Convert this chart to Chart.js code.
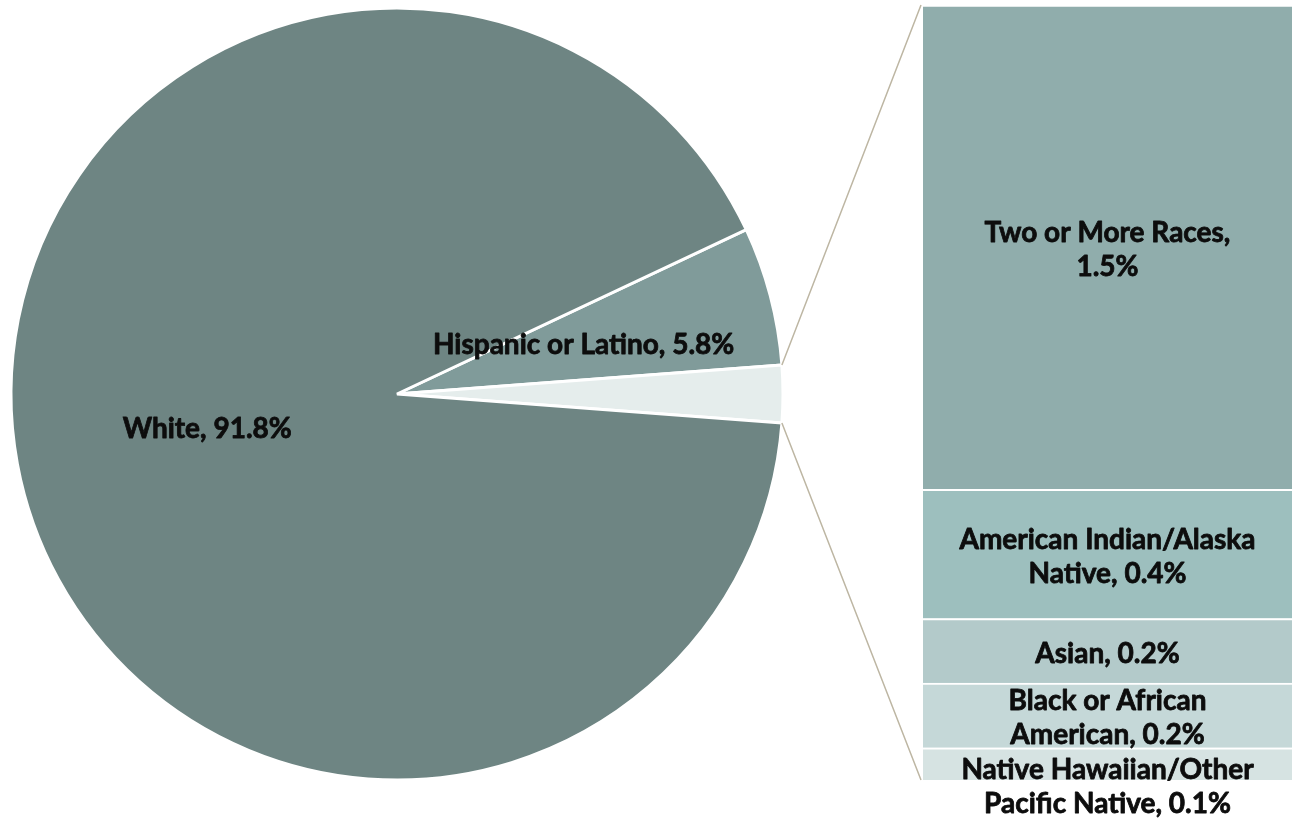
<!DOCTYPE html>
<html>
<head>
<meta charset="utf-8">
<script src="https://cdn.jsdelivr.net/npm/chart.js@4.4.1/dist/chart.umd.min.js"></script>
<style>
  html, body { margin: 0; padding: 0; background: #fff; }
  #wrap { position: relative; width: 1292px; height: 822px; }
  #pie { position: absolute; left: 0; top: 0; }
  #bar { position: absolute; left: 923px; top: 0; }
</style>
</head>
<body>
<div id="wrap">
  <canvas id="pie" width="1292" height="822"></canvas>
  <canvas id="bar" width="369" height="822"></canvas>
</div>
<script>
// main pie: the small groups are combined into "Other" and broken out in the bar
const pieLabels = ['Hispanic or Latino', 'Other', 'White'];
const pieValues = [5.8, 2.4, 91.8];
const pieColors = ['#809b9a', '#e5edec', '#6e8583'];

// breakout bar, stacked bottom to top
const barNames = ['Native Hawaiian/Other Pacific Native', 'Black or African American', 'Asian', 'American Indian/Alaska Native', 'Two or More Races'];
const barValues = [0.1, 0.2, 0.2, 0.4, 1.5];
const barColors = ['#d6e3e2', '#c5d8d8', '#b3caca', '#9dbfbe', '#90adac'];
// label layout, {v} is replaced with the value
const barLabelFormat = ['Native Hawaiian/Other\nPacific Native, {v}%', 'Black or African\nAmerican, {v}%', 'Asian, {v}%', 'American Indian/Alaska\nNative, {v}%', 'Two or More Races,\n{v}%'];

const labelFont = 'bold 28px Lato';
const lineHeight = 34;
const textColor = '#0d0d0d';

// bold text with a thin outline so it reads heavier
function heavyText(ctx, text, x, y) {
  ctx.fillText(text, x, y);
  ctx.strokeText(text, x, y);
}

function labelStyle(ctx) {
  ctx.font = labelFont;
  ctx.fillStyle = textColor;
  ctx.strokeStyle = textColor;
  ctx.lineWidth = 0.8;
  ctx.lineJoin = 'round';
  ctx.textAlign = 'center';
  ctx.textBaseline = 'middle';
}

const barLabelPlugin = {
  id: 'barLabels',
  afterDatasetsDraw(chart) {
    const ctx = chart.ctx;
    ctx.save();
    labelStyle(ctx);
    chart.data.datasets.forEach((ds, i) => {
      const bar = chart.getDatasetMeta(i).data[0];
      const lines = barLabelFormat[i].replace('{v}', ds.data[0].toFixed(1)).split('\n');
      const top = Math.min(bar.y, bar.base);
      const bottom = Math.max(bar.y, bar.base);
      const segH = bottom - top;
      const blockH = lines.length * lineHeight;
      let cy = (top + bottom) / 2 + 3;
      // labels far taller than their segment hang from the segment top
      if (blockH > 2 * segH) cy = top + blockH / 2 + 5;
      lines.forEach((ln, k) => {
        heavyText(ctx, ln, bar.x, cy - blockH / 2 + lineHeight * (k + 0.5));
      });
    });
    ctx.restore();
  }
};

const barChart = new Chart(document.getElementById('bar'), {
  type: 'bar',
  data: {
    labels: [''],
    datasets: barNames.map((name, i) => ({
      label: name,
      data: [barValues[i]],
      backgroundColor: barColors[i],
      borderColor: '#ffffff',
      borderWidth: { top: 2, left: 0, right: 0, bottom: 0 },
      barPercentage: 1,
      categoryPercentage: 1
    }))
  },
  options: {
    responsive: false,
    animation: false,
    layout: { padding: { top: 5, bottom: 42, left: 0, right: 0 } },
    scales: {
      x: { stacked: true, display: false },
      y: { stacked: true, display: false, min: 0, max: pieValues[1] }
    },
    plugins: {
      legend: { display: false },
      tooltip: { enabled: false }
    }
  },
  plugins: [barLabelPlugin]
});

const pieLabelPlugin = {
  id: 'pieLabels',
  afterDatasetsDraw(chart) {
    const ctx = chart.ctx;
    const meta = chart.getDatasetMeta(0);
    ctx.save();
    labelStyle(ctx);
    meta.data.forEach((arc, i) => {
      if (pieLabels[i] === 'Other') return;
      const p = arc.tooltipPosition();
      heavyText(ctx, pieLabels[i] + ', ' + pieValues[i].toFixed(1) + '%', p.x, p.y);
    });
    ctx.restore();
  }
};

// lines from the "Other" slice to the top and bottom of the bar
const connectorPlugin = {
  id: 'connector',
  afterDraw(chart) {
    const arc = chart.getDatasetMeta(0).data[1];
    const area = barChart.chartArea;
    const bx = barChart.canvas.offsetLeft - 2;
    const ctx = chart.ctx;
    ctx.save();
    ctx.strokeStyle = '#bdb6a3';
    ctx.lineWidth = 1.5;
    ctx.beginPath();
    ctx.moveTo(arc.x + Math.cos(arc.startAngle) * arc.outerRadius, arc.y + Math.sin(arc.startAngle) * arc.outerRadius);
    ctx.lineTo(bx, area.top);
    ctx.moveTo(arc.x + Math.cos(arc.endAngle) * arc.outerRadius, arc.y + Math.sin(arc.endAngle) * arc.outerRadius);
    ctx.lineTo(bx, area.bottom);
    ctx.stroke();
    ctx.restore();
  }
};

// start so the "Other" slice is centred at 3 o'clock
const startPct = pieValues[0] + pieValues[1] / 2;

new Chart(document.getElementById('pie'), {
  type: 'pie',
  data: {
    labels: pieLabels,
    datasets: [{
      data: pieValues,
      backgroundColor: pieColors,
      borderColor: '#ffffff',
      borderWidth: 3,
      hoverOffset: 0
    }]
  },
  options: {
    responsive: false,
    animation: false,
    rotation: 90 - startPct / 100 * 360,
    radius: 386,
    layout: { padding: { left: 11, top: 8, right: 509, bottom: 42 } },
    plugins: {
      legend: { display: false },
      tooltip: { enabled: false }
    }
  },
  plugins: [pieLabelPlugin, connectorPlugin]
});
</script>
</body>
</html>
